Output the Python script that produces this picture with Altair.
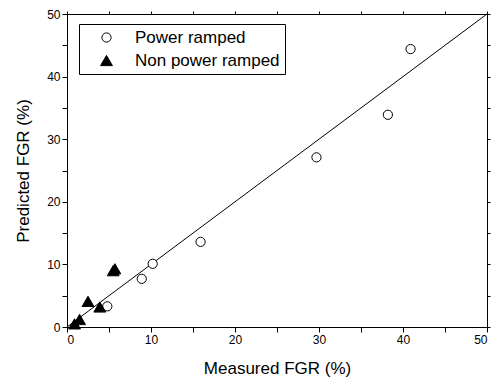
import altair as alt
import pandas as pd

# Power ramped (open circles)
pr_measured = [40.9, 38.2, 29.7, 15.9, 10.2, 8.9, 4.8]
pr_predicted = [44.4, 33.9, 27.1, 13.6, 10.1, 7.7, 3.3]

# Non power ramped (filled triangles)
npr_measured = [5.5, 5.7, 2.5, 3.9, 1.5, 0.9]
npr_predicted = [9.0, 9.3, 4.1, 3.2, 1.2, 0.5]

series_names = ["Power ramped", "Non power ramped"]

# 1:1 line
line_x = [0, 50]
line_y = [0, 50]

rows = []
for m, p in zip(pr_measured, pr_predicted):
    rows.append({"measured": m, "predicted": p, "series": series_names[0]})
for m, p in zip(npr_measured, npr_predicted):
    rows.append({"measured": m, "predicted": p, "series": series_names[1]})
df = pd.DataFrame(rows)
line_df = pd.DataFrame({"measured": line_x, "predicted": line_y})

FONT = "Liberation Sans"
ticks = list(range(0, 51, 5))
label_expr = "datum.value % 10 == 0 ? datum.label : ''"

xscale = alt.Scale(domain=[0, 50], nice=False, zero=False)
yscale = alt.Scale(domain=[0, 50], nice=False, zero=False)

line = alt.Chart(line_df).mark_line(color="black", strokeWidth=1).encode(
    x=alt.X("measured:Q", scale=xscale,
            axis=alt.Axis(title="Measured FGR (%)", values=ticks, labelExpr=label_expr,
                          titlePadding=15)),
    y=alt.Y("predicted:Q", scale=yscale,
            axis=alt.Axis(title="Predicted FGR (%)", values=ticks, labelExpr=label_expr,
                          titlePadding=14)),
)

# mirror ticks on top and right
mirror = alt.Chart(line_df).mark_line(opacity=0).encode(
    x=alt.X("measured:Q", scale=xscale,
            axis=alt.Axis(orient="top", title=None, labels=False, values=ticks, tickSize=3)),
    y=alt.Y("predicted:Q", scale=yscale,
            axis=alt.Axis(orient="right", title=None, labels=False, values=ticks, tickSize=3)),
)

legend = alt.Legend(
    title=None, orient="none", legendX=12, legendY=10,
    strokeColor="black", fillColor="white", padding=5,
    symbolOffset=14, labelOffset=20, rowPadding=5,
    labelFontSize=17, labelFont=FONT, labelColor="black",
    symbolStrokeWidth=1,
)

points = alt.Chart(df).mark_point(filled=True, strokeWidth=1, opacity=1).encode(
    x=alt.X("measured:Q", scale=xscale, axis=None),
    y=alt.Y("predicted:Q", scale=yscale, axis=None),
    shape=alt.Shape("series:N", scale=alt.Scale(domain=series_names, range=["circle", "triangle-up"]), legend=legend),
    fill=alt.Fill("series:N", scale=alt.Scale(domain=series_names, range=["white", "black"]), legend=legend),
    stroke=alt.Stroke("series:N", scale=alt.Scale(domain=series_names, range=["black", "black"]), legend=legend),
    size=alt.Size("series:N", scale=alt.Scale(domain=series_names, range=[85, 140]), legend=legend),
)

chart = alt.layer(line, points, mirror).resolve_axis(x="independent", y="independent").properties(
    width=420, height=313,
    autosize=alt.AutoSizeParams(type="none"),
    padding={"left": 67, "top": 14, "right": 4, "bottom": 55},
).configure_view(
    stroke="black", strokeWidth=1
).configure_axis(
    grid=False, domainColor="black", tickColor="black", tickSize=5,
    labelFont=FONT, titleFont=FONT, labelFontSize=12, titleFontSize=17,
    labelColor="black", titleColor="black", titleFontWeight="normal",
    labelPadding=2,
)

chart.save("out.html", embed_options={"renderer": "svg", "actions": False})
